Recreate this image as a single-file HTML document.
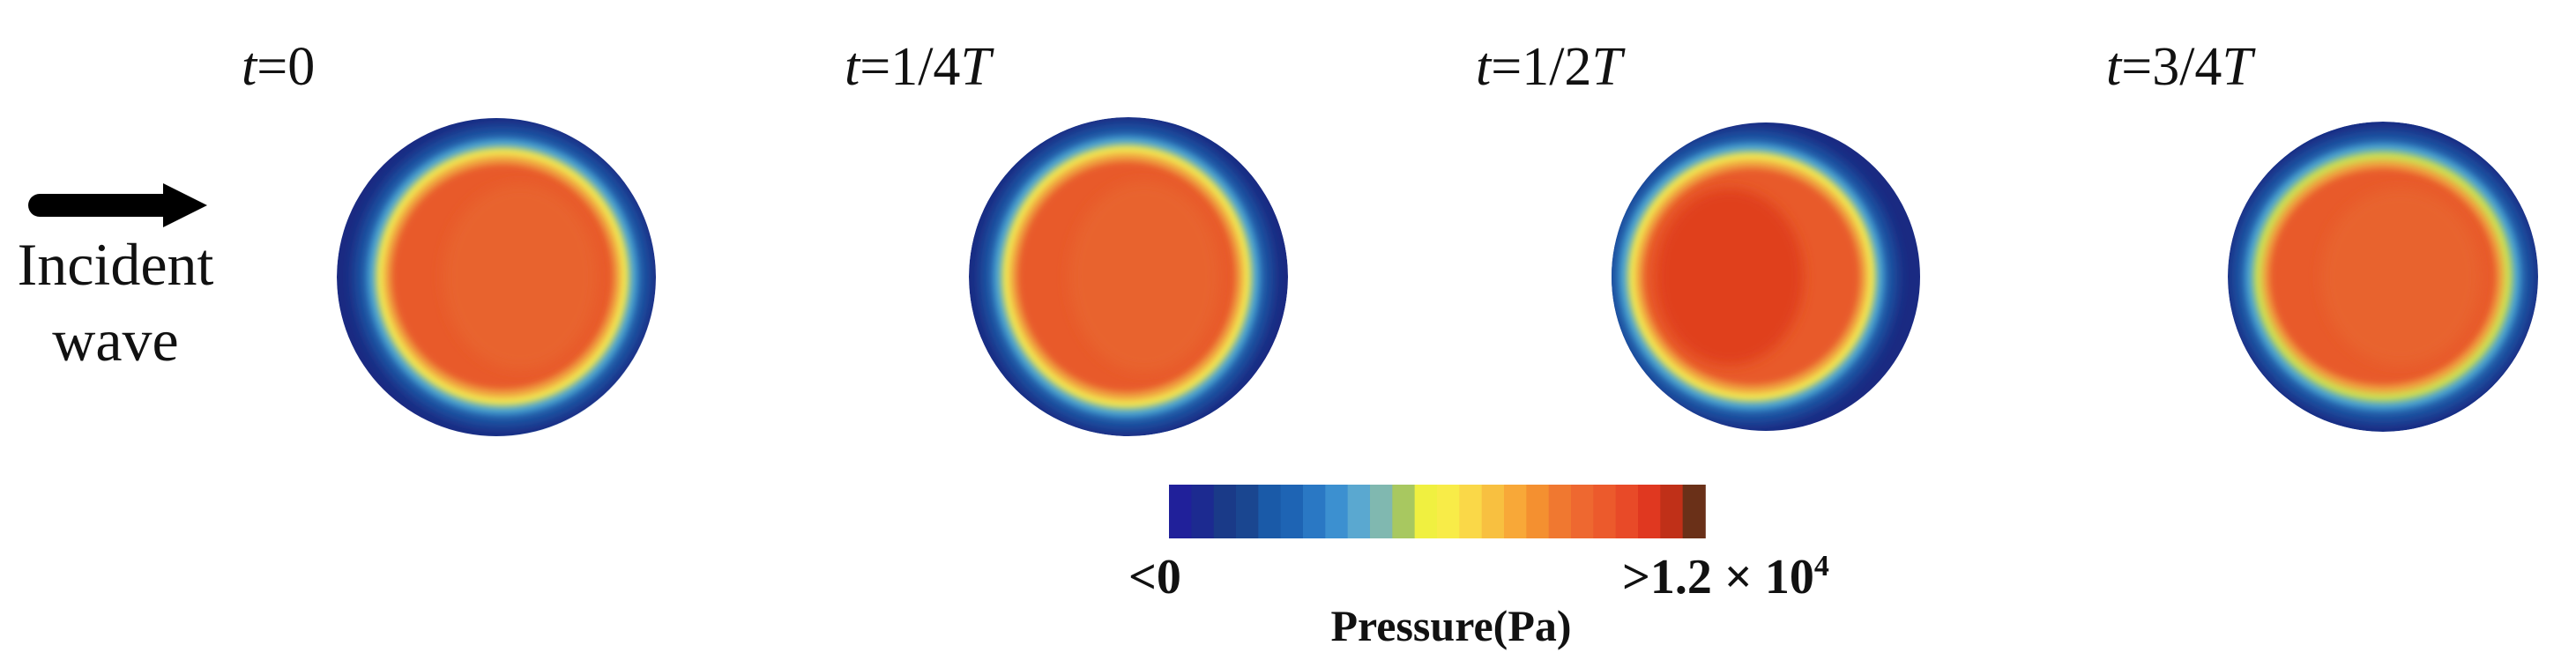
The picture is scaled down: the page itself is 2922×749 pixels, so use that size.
<!DOCTYPE html>
<html><head><meta charset="utf-8"><style>
body{margin:0;background:#fff}
svg{display:block}
text{font-family:"Liberation Serif","DejaVu Serif",serif;fill:#111}
</style></head><body>
<svg width="2922" height="749" viewBox="0 0 2922 749">
<defs>
<filter id="blur" x="-20%" y="-20%" width="140%" height="140%"><feGaussianBlur stdDeviation="7"/></filter>
<filter id="blur2" x="-20%" y="-20%" width="140%" height="140%"><feGaussianBlur stdDeviation="4"/></filter>
<clipPath id="c0"><circle cx="563" cy="315" r="181"/></clipPath>
<clipPath id="c1"><circle cx="1280" cy="314" r="181"/></clipPath>
<clipPath id="c2"><circle cx="2003" cy="314" r="175"/></clipPath>
<clipPath id="c3"><circle cx="2703" cy="314" r="176"/></clipPath>
</defs>
<g>
<line x1="45" y1="233" x2="190" y2="233" stroke="#000" stroke-width="26" stroke-linecap="round"/>
<polygon points="185,208 235,233 185,258" fill="#000"/>
</g>
<text x="131" y="323" font-size="68" font-family="Liberation Serif, serif" text-anchor="middle">Incident</text>
<text x="131" y="409" font-size="68" font-family="Liberation Serif, serif" text-anchor="middle">wave</text>
<g id="panels"></g>
<g id="cbar"></g>
<text x="1280" y="673" font-size="56" font-family="Liberation Serif, serif" font-weight="bold">&lt;0</text>
<text x="1840" y="673" font-size="56" font-family="Liberation Serif, serif" font-weight="bold">&gt;1.2 × 10<tspan dy="-20" font-size="34">4</tspan></text>
<text x="1646" y="727" font-size="50" font-family="Liberation Serif, serif" font-weight="bold" text-anchor="middle">Pressure(Pa)</text>
</svg>
<script>
const timeLabels=["0","1/4","1/2","3/4"];
const panelCx=[563,1280,2003,2703];
const innerCx=[570,1278,1987,2703];
const innerRx=[142,140,139,145];
const innerRy=[145,148,140,140];
const cbarColors=["#20209a","#1c2a90","#1a3a88","#1a4690","#1a5aa8","#1e64b4","#2a78c4","#3c90d0","#5aa8d0","#80b8b0","#a8c860","#f0f040","#f8ec48","#fad848","#f8c040","#f8a838","#f49030","#f07830","#ee6830","#ec5a2c","#e84a28","#e03820","#c03018","#6a3018"];
const NS="http://www.w3.org/2000/svg";
const P=document.getElementById("panels");
function mk(t,a,parent){const e=document.createElementNS(NS,t);for(const k in a)e.setAttribute(k,a[k]);parent.appendChild(e);return e;}
const labelX=[274,958,1674,2389];
timeLabels.forEach((lab,i)=>{
  const g=mk("g",{},P);
  
  
  const tx=mk("text",{x:labelX[i],y:96,"font-size":62,"font-family":"Liberation Serif, serif"},g);
  tx.innerHTML='<tspan font-style="italic">t</tspan>='+lab+(i>0?'<tspan font-style="italic">T</tspan>':'');
  
  
  const cx=panelCx[i],cy=314,r=i>=2?176:181;
  const c=mk("g",{"clip-path":"url(#c"+i+")"},g);
  mk("circle",{cx:cx,cy:cy,r:r,fill:"#1a2a82"},c);
  const ix=innerCx[i],rx=innerRx[i],ry=innerRy[i];
  mk("ellipse",{cx:ix,cy:cy,rx:rx+26,ry:ry+26,fill:"#1e58a6",filter:"url(#blur)"},c);
  mk("ellipse",{cx:ix,cy:cy,rx:rx+12,ry:ry+12,fill:"#4aa2d2",filter:"url(#blur2)"},c);
  mk("ellipse",{cx:ix,cy:cy,rx:rx+2,ry:ry+2,fill:i==3?"#cfe050":"#f2e650",filter:"url(#blur2)"},c);
  mk("ellipse",{cx:ix,cy:cy,rx:rx-8,ry:ry-8,fill:"#f0a040",filter:"url(#blur2)"},c);
  mk("ellipse",{cx:ix,cy:cy,rx:rx-16,ry:ry-17,fill:"#e85a2c",filter:"url(#blur2)"},c);
  mk("ellipse",{cx:ix+(i==2?-25:20),cy:cy,rx:rx-55,ry:ry-40,fill:i==2?"#e0401e":"#e8642e",filter:"url(#blur)"},c);
});
const cb=document.getElementById("cbar");
const x0=1326,x1=1934,w=(x1-x0)/cbarColors.length;
cbarColors.forEach((col,i)=>{
  const r=mk("rect",{x:x0+i*w,y:550,width:w+0.8,height:61,fill:col},cb);
  
  
});
</script>
</body></html>
